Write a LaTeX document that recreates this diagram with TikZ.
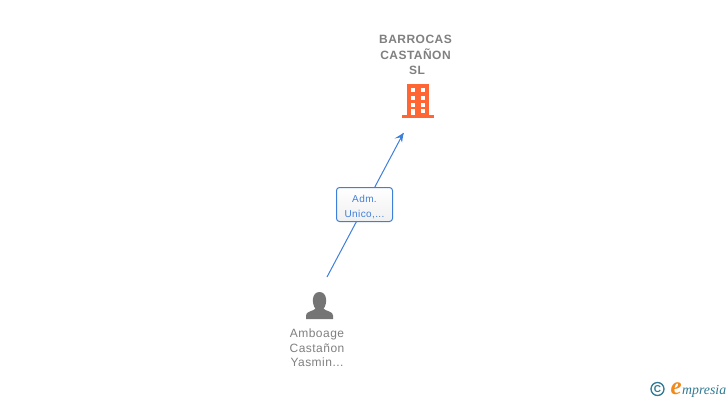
\documentclass[tikz,border=0pt]{standalone}
\usepackage{fontspec}
\setmainfont{Liberation Sans}
\newfontfamily\logofont{Liberation Serif}
\newfontfamily\spacedfont[LetterSpace=4]{Liberation Sans}
\definecolor{linkblue}{HTML}{3F7FDC}
\definecolor{labelgray}{HTML}{808080}
\definecolor{iconorange}{HTML}{FF6633}
\definecolor{icongray}{HTML}{757575}
\definecolor{logoteal}{HTML}{2F7A94}
\definecolor{logoorange}{HTML}{F08A1D}
\tikzset{
  name label/.style={text=labelgray,align=center,font=\spacedfont\fontsize{12}{14.5}\selectfont,inner sep=0pt},
  link/.style={draw=linkblue,line width=1pt},
  linktip/.style={fill=linkblue,draw=none},
  rolebox/.style={draw=linkblue,line width=1pt,rounded corners=3pt,top color=white,bottom color=white!94!black,minimum width=56pt,minimum height=34pt,inner sep=0pt,align=center,text=linkblue,font=\spacedfont\fontsize{10}{15}\selectfont},
}
\begin{document}
\begin{tikzpicture}[x=1pt,y=-1pt]
\useasboundingbox (0,0) rectangle (728,400);
\fill[white] (0,0) rectangle (728,400);
% company
\node[name label,font=\spacedfont\fontsize{12}{15.5}\selectfont\bfseries] (company) at (415.5,55) {BARROCAS\\CASTAÑON\\\hspace*{3pt}SL};
\coordinate (tip) at (403.5,133);
\coordinate (tail) at (327,277);
% building icon
\fill[iconorange] (407,84) rectangle (429,115);
\fill[iconorange] (402,115.3) rectangle (433.5,118);
\foreach \x in {410.5,420.8}{
  \foreach \y in {88,95.5,103}{
    \fill[white] (\x,\y) rectangle ++(4.6,4.2);
  }
}
\fill[white] (410.5,108.5) rectangle ++(4.6,6.8);
\fill[white] (420.8,108.5) rectangle ++(4.6,4);
% connector
\draw[link] (tail) -- (tip);
\node[rolebox] (role) at (364.5,204.5) {\rule{0pt}{12pt}Adm.\\Unico,...};
\fill[linktip] (tip) -- (394.5,138.5) -- (400,137.5) -- (402,142.5) -- cycle;
% person
\node[name label] (person) at (317,348) {Amboage\\Castañon\\Yasmin...};
\fill[icongray] (306,319.2) -- (306,315.5) .. controls (306,311.5) and (312,311.5) .. (315.5,308.8)
  .. controls (311.5,304) and (311.5,292) .. (319.5,292)
  .. controls (327.5,292) and (327.5,304) .. (323.5,308.8)
  .. controls (327,311.5) and (333,311.5) .. (333,315.5) -- (333,319.2) -- cycle;
% logo
\node[circle,draw=logoteal,line width=1.3pt,minimum size=13pt,inner sep=0pt,text=logoteal,font=\fontsize{10}{10}\selectfont\bfseries] (copyright) at (657.5,389) {C};
\node[inner sep=0pt,anchor=base west,text=logoorange,font=\logofont\itshape\bfseries\fontsize{25}{25}\selectfont] (logoe) at (670.5,394.5) {e};
\node[inner sep=0pt,anchor=base west,text=logoteal,font=\logofont\itshape\fontsize{13.8}{14}\selectfont] (logotext) at (682,394) {mpresia};
\end{tikzpicture}
\end{document}
